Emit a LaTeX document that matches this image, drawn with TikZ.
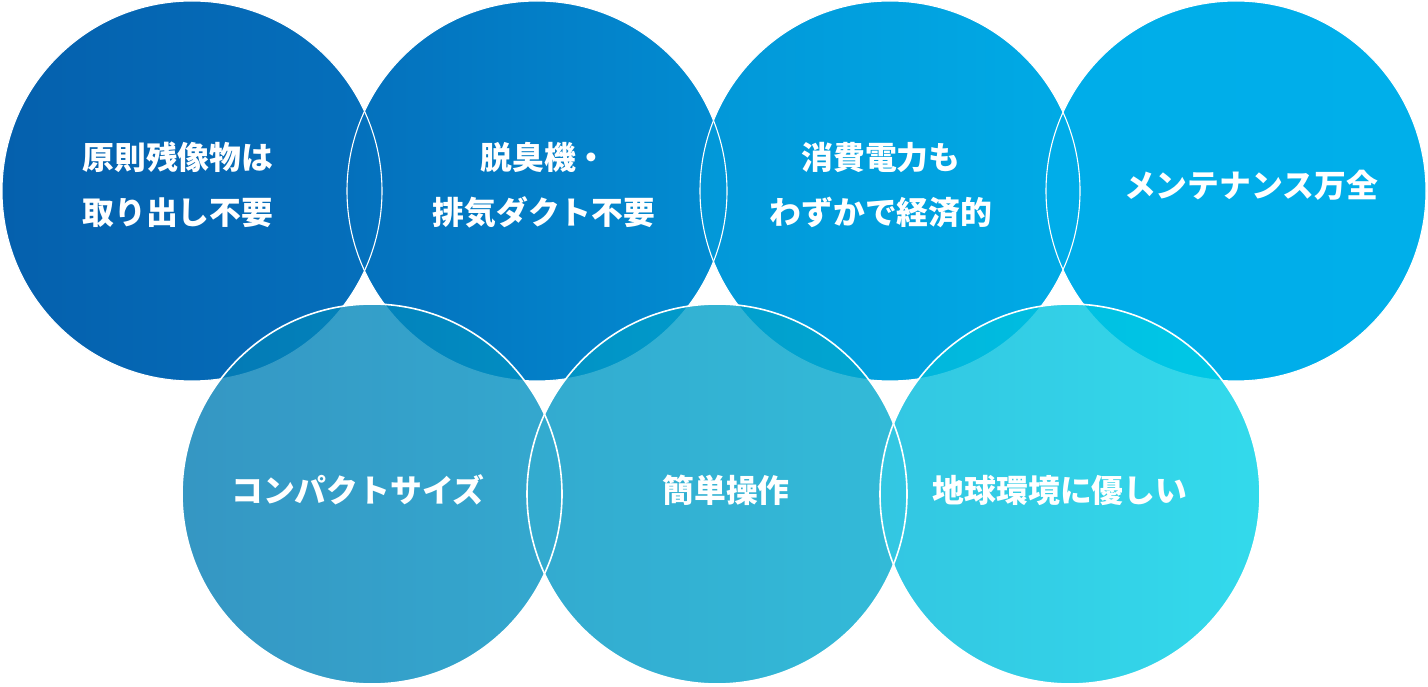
\documentclass[tikz,border=0pt]{standalone}
\usepackage{fontspec}
\newfontfamily\jp{Noto Sans CJK JP}
\definecolor{caL}{HTML}{0560AD}
\definecolor{caR}{HTML}{0570BC}
\definecolor{cbL}{HTML}{0470BC}
\definecolor{cbR}{HTML}{028DD2}
\definecolor{ccL}{HTML}{0297D8}
\definecolor{ccR}{HTML}{00ABE6}
\definecolor{cdL}{HTML}{00ADE9}
\definecolor{cdR}{HTML}{00AFEA}
\definecolor{ceL}{HTML}{037DB5}
\definecolor{ceR}{HTML}{0293C3}
\definecolor{cfL}{HTML}{0196C4}
\definecolor{cfR}{HTML}{01AACF}
\definecolor{cgL}{HTML}{01B9DB}
\definecolor{cgR}{HTML}{01D1E7}
\tikzset{
  disc/.style={circle, minimum size=380, inner sep=0, draw=none, shade, shading angle=90},
  ring/.style={draw=white, line width=1.1},
  lowring/.style={draw=white, line width=1.6},
  label/.style={text=white, align=center, font=\jp\bfseries\fontsize{31.8}{55}\selectfont}
}
\begin{document}
\begin{tikzpicture}[x=1pt,y=1pt]
\fill[white] (0,0) rectangle (1428,686);
\useasboundingbox (0,0) rectangle (1428,686);
% top row
\node[disc, left color=caL, right color=caR] (c1) at (192,495) {};
\node[disc, left color=cbL, right color=cbR] (c2) at (537,495) {};
\node[disc, left color=ccL, right color=ccR] (c3) at (890,495) {};
\node[disc, left color=cdL, right color=cdR] (c4) at (1236,495) {};
\foreach \n in {c1,c2,c3,c4} \draw[ring] (\n.center) circle[radius=190];
% bottom row, as one translucent group
\begin{scope}[transparency group, opacity=0.8]
\node[disc, left color=ceL, right color=ceR] (c5) at (372,192) {};
\node[disc, left color=cfL, right color=cfR] (c6) at (717,192) {};
\node[disc, left color=cgL, right color=cgR] (c7) at (1070,192) {};
\end{scope}
\foreach \n in {c5,c6,c7} \draw[lowring] (\n.center) circle[radius=190];
% labels
\node[label] (t1) at (178,501) {原則残像物は\\取り出し不要};
\node[label] (t2) at (544,501) {脱臭機・\\排気ダクト不要};
\node[label] (t3) at (881,501) {消費電力も\\わずかで経済的};
\node[label] (t4) at (1251,501) {メンテナンス万全};
\node[label] (t5) at (358,196) {コンパクトサイズ};
\node[label] (t6) at (726,196) {簡単操作};
\node[label] (t7) at (1060,196) {地球環境に優しい};
\end{tikzpicture}
\end{document}
